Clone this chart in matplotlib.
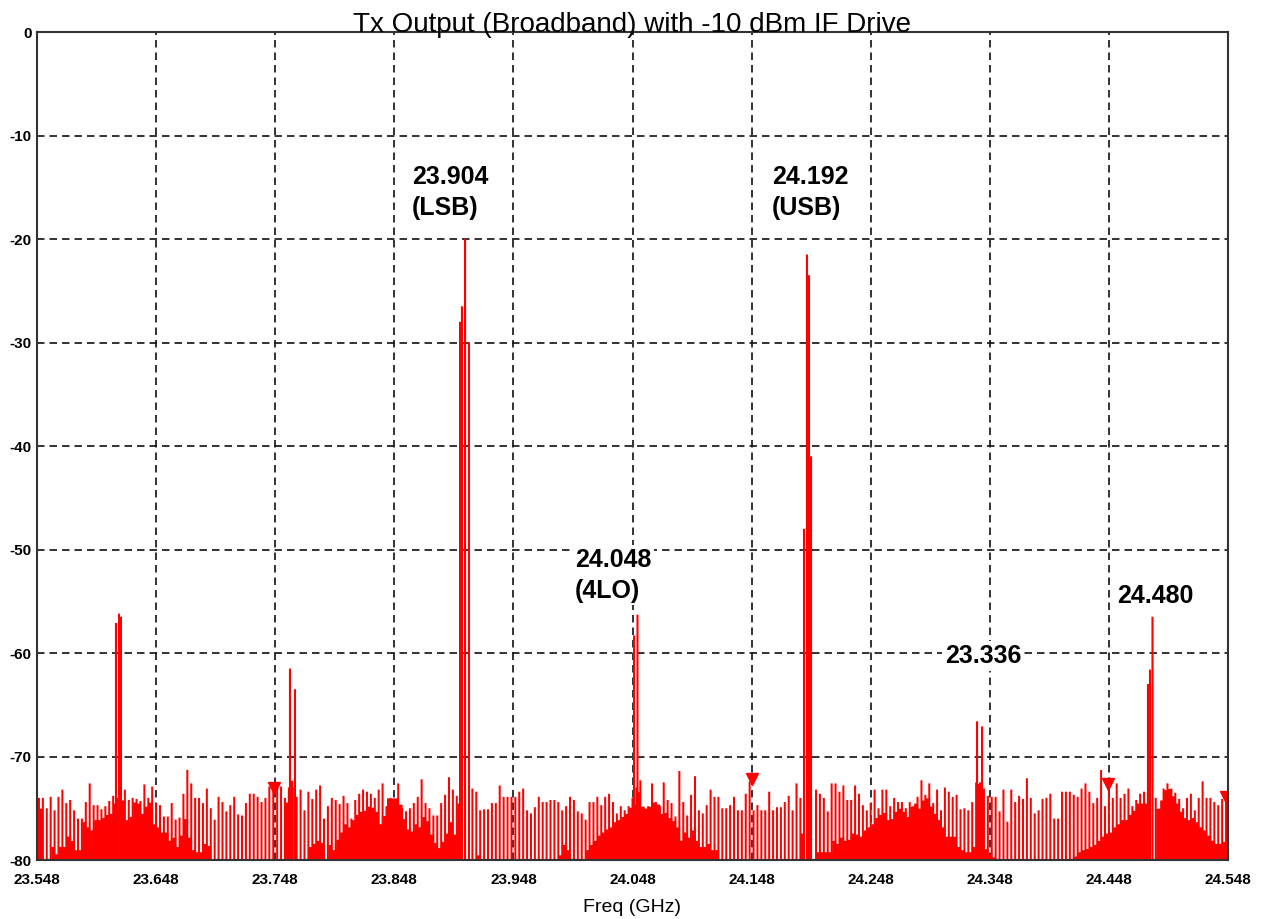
import numpy as np
import matplotlib
matplotlib.use('Agg')
import matplotlib.pyplot as plt

plt.rcParams['font.family'] = ['Liberation Sans', 'DejaVu Sans']

# sweep
f_start = 23.548
f_stop = 24.548

# noise comb: spike tops (dBm), one per sweep bin
tops = [
    -74.0, -74.0, -75.0, -73.9, -75.2, -73.9, -73.2, -74.5, -74.2, -75.2,
    -76.0, -76.0, -74.4, -72.6, -74.7, -74.7, -75.1, -74.8, -74.3, -73.8,
    -74.0, -74.0, -73.2, -74.2, -74.0, -74.1, -74.3, -72.7, -74.0, -72.9,
    -74.5, -74.7, -75.8, -75.8, -74.5, -76.1, -75.9, -73.6, -71.3, -72.6,
    -74.0, -74.0, -74.5, -73.1,
    -75.0, -76.1, -73.9, -74.4, -75.3, -74.7, -73.9, -75.6, -75.7, -74.5,
    -73.6, -73.6, -73.9, -74.4, -74.0, -72.9, -72.9, -72.8, -72.9, -74.0,
    -73.0, -73.0, -73.9, -73.2, -75.2, -73.4, -74.1, -73.2, -72.8, -76.0,
    -74.8, -74.0, -74.2, -74.6, -73.8, -74.5, -76.0, -74.2, -73.6, -73.2,
    -73.4, -73.6, -74.0,
    -73.2, -72.6, -74.8, -74.0, -74.2, -72.6, -75.0, -75.3, -75.0, -74.5,
    -73.9, -72.2, -74.5, -75.0, -75.7, -75.7, -74.5, -73.7, -72.0, -73.2,
    -73.8, -80.0, -80.0, -80.0, -73.1, -73.4, -75.2, -75.1, -75.1, -74.5,
    -74.5, -72.8, -73.9, -73.9, -73.9, -73.9, -73.4, -73.1, -75.2, -75.5,
    -74.9, -73.9, -74.4,
    -74.4, -74.2, -74.2, -74.4, -75.2, -74.8, -73.9, -74.2, -75.3, -75.5,
    -76.1, -74.4, -74.4, -73.9, -74.7, -73.9, -73.6, -74.4, -75.5, -74.8,
    -75.2, -74.8, -74.0, -73.0, -72.3, -75.0, -74.8, -72.6, -74.4, -74.8,
    -72.5, -74.2, -74.5, -75.8, -71.4, -74.4, -75.7, -73.7, -71.9, -75.2,
    -75.5, -74.7, -73.2, -73.9,
    -73.9, -75.0, -75.0, -74.7, -73.9, -75.2, -75.2, -73.6, -72.4, -75.2,
    -74.7, -75.2, -75.2, -73.4, -75.2, -74.9, -74.9, -74.4, -73.8, -75.2,
    -72.6, -74.0, -80.0, -80.0, -80.0, -73.2, -73.6, -74.0, -75.3, -72.6,
    -72.6, -73.4, -72.8, -74.2, -74.2, -72.8, -73.6, -74.7, -75.2, -74.5,
    -73.2, -75.0, -73.2, -73.2,
    -74.8, -74.0, -74.4, -74.4, -75.0, -74.4, -74.8, -73.9, -72.3, -73.7,
    -72.6, -74.5, -73.2, -75.2, -73.0, -73.4, -73.9, -73.7, -75.1, -75.0,
    -75.2, -74.4, -72.5, -72.5, -73.1, -73.8, -73.9, -73.9, -75.3, -73.2,
    -76.3, -73.2, -74.4, -73.8, -74.1, -72.1, -74.0, -75.5, -75.2, -74.1,
    -74.0, -73.6, -76.0,
    -76.0, -73.4, -73.4, -73.4, -73.7, -73.9, -73.1, -72.6, -73.4, -74.5,
    -74.0, -71.3, -74.8, -72.6, -74.0, -72.6, -74.0, -73.6, -73.1, -74.8,
    -74.2, -73.6, -73.4, -73.6, -80.0, -74.0, -75.1, -73.1, -72.6, -73.1,
    -73.5, -74.1, -75.0, -74.0, -73.6, -75.2, -74.0, -72.4, -74.0, -74.0,
    -74.4, -74.7, -74.1, -73.8,
]

# level of the trace between one spike and the next
gaps = [
    -75.0, -80.0, -80.0, -78.7, -79.4, -78.7, -78.7, -77.7, -78.1, -79.0,
    -79.0, -76.3, -76.8, -77.1, -76.1, -76.1, -75.9, -75.6, -75.5, -74.5,
    -80.0, -74.2, -76.1, -75.8, -74.4, -74.5, -75.5, -74.8, -74.4, -76.5,
    -76.8, -77.3, -77.3, -78.1, -77.8, -78.7, -77.6, -76.0, -77.8, -79.0,
    -79.2, -79.2, -78.4, -78.6,
    -80.0, -80.0, -80.0, -80.0, -80.0, -80.0, -80.0, -80.0, -80.0, -80.0,
    -80.0, -80.0, -80.0, -80.0, -80.0, -80.0, -80.0, -80.0, -80.0, -74.4,
    -72.3, -80.0, -80.0, -80.0, -80.0, -78.7, -78.4, -78.1, -78.3, -80.0,
    -78.5, -79.0, -78.0, -77.3, -76.5, -76.8, -76.1, -75.6, -75.3, -75.2,
    -74.8, -74.9, -75.3,
    -76.5, -75.7, -74.0, -74.0, -74.0, -74.6, -76.0, -77.0, -77.2, -76.5,
    -76.8, -75.8, -76.2, -77.5, -78.3, -78.8, -78.2, -77.4, -76.3, -77.5,
    -74.5, -80.0, -80.0, -80.0, -80.0, -79.5, -80.0, -80.0, -80.0, -80.0,
    -80.0, -80.0, -80.0, -80.0, -80.0, -80.0, -80.0, -80.0, -80.0, -80.0,
    -80.0, -80.0, -80.0,
    -80.0, -80.0, -80.0, -79.5, -78.5, -79.0, -80.0, -80.0, -80.0, -80.0,
    -79.0, -78.5, -78.1, -77.6, -77.3, -77.0, -76.8, -76.3, -76.1, -75.8,
    -75.5, -74.9, -74.6, -73.4, -74.8, -75.0, -74.8, -74.4, -74.6, -75.5,
    -75.4, -75.9, -76.2, -76.8, -78.1, -77.3, -77.8, -77.1, -78.1, -78.7,
    -78.7, -78.4, -79.0, -79.0,
    -80.0, -80.0, -80.0, -80.0, -80.0, -80.0, -80.0, -80.0, -80.0, -80.0,
    -80.0, -80.0, -80.0, -80.0, -80.0, -80.0, -80.0, -80.0, -80.0, -80.0,
    -80.0, -77.4, -80.0, -80.0, -80.0, -79.2, -79.2, -79.2, -79.2, -78.1,
    -78.4, -77.8, -78.1, -78.0, -77.4, -77.5, -77.7, -77.1, -76.8, -76.5,
    -75.9, -75.6, -75.4, -76.1,
    -76.0, -75.3, -75.0, -75.3, -75.8, -74.8, -74.5, -75.0, -74.2, -74.0,
    -74.8, -75.5, -76.1, -76.8, -77.7, -77.7, -77.7, -78.7, -79.0, -79.2,
    -79.2, -78.7, -72.6, -75.0, -78.9, -79.4, -79.7, -79.9, -80.0, -80.0,
    -80.0, -80.0, -80.0, -80.0, -80.0, -80.0, -80.0, -80.0, -80.0, -80.0,
    -80.0, -80.0, -80.0,
    -80.0, -80.0, -80.0, -80.0, -79.6, -79.2, -79.0, -78.9, -78.7, -78.5,
    -78.1, -77.7, -77.4, -77.3, -76.8, -76.5, -76.1, -76.1, -75.6, -75.2,
    -74.5, -74.5, -74.5, -80.0, -80.0, -75.0, -74.2, -73.2, -73.1, -73.8,
    -74.5, -75.3, -75.9, -76.1, -75.9, -76.3, -76.8, -77.1, -77.6, -78.1,
    -78.4, -78.4, -78.2, -78.2,
]

# discrete signals (GHz, dBm)
sig_freq = [23.6143, 23.6169, 23.6185,
            23.7604, 23.7646,
            23.9032, 23.9048, 23.9074, 23.9107,
            24.0493, 24.0522,
            24.1920, 24.1945, 24.1962, 24.1979,
            24.3373, 24.3415,
            24.4808, 24.4825, 24.4846]
sig_level = [-57.1, -56.2, -56.5,
             -61.5, -63.5,
             -28.0, -26.5, -20.0, -30.0,
             -58.3, -56.3,
             -48.0, -21.5, -23.5, -41.0,
             -66.6, -67.1,
             -63.0, -61.6, -56.5]

# instrument markers
mk_freq = [23.7470, 24.1483, 24.4473, 24.5463]
mk_level = [-73.0, -72.2, -72.7, -73.9]

# annotations
ann_text = ['23.904\n(LSB)', '24.192\n(USB)', '24.048\n(4LO)', '23.336', '24.480']
ann_x = [23.8629, 24.1651, 23.9997, 24.3104, 24.4548]
ann_y = [-15.5, -15.5, -52.5, -60.3, -54.5]

n = len(tops)
df = (f_stop - f_start) / n
freqs = f_start + (np.arange(n) + 0.5) * df

fig = plt.figure(figsize=(12.64, 9.19), dpi=100)
ax = fig.add_axes([37 / 1264, 1 - 860 / 919, 1191 / 1264, 828 / 919])

red = '#ff0000'
# floor of the trace between the spikes
ax.fill_between(np.append(freqs, f_stop), -80, np.append(gaps, gaps[-1]),
                step='post', color=red, linewidth=0)
# the comb itself
ax.vlines(freqs, -80, tops, color=red, lw=1.45, snap=False)
ax.vlines(sig_freq, -80, sig_level, color=red, lw=1.5, snap=False)
ax.plot(mk_freq, mk_level, 'v', color=red, markersize=9, linestyle='none')

for t, x, y in zip(ann_text, ann_x, ann_y):
    ax.text(x, y, t, ha='left', va='center', fontsize=18, fontweight='bold',
            linespacing=1.35, zorder=5,
            bbox=dict(facecolor='white', edgecolor='none', pad=2))

ax.set_xlim(f_start, f_stop)
ax.set_ylim(-80, 0)
xt = [23.548 + 0.1 * k for k in range(11)]
ax.set_xticks(xt)
ax.set_xticklabels([f'{v:.3f}' for v in xt], fontsize=11, fontweight='bold')
ax.set_yticks(range(-80, 1, 10))
ax.set_yticklabels([str(v) for v in range(-80, 1, 10)], fontsize=11,
                   fontweight='bold')
ax.tick_params(length=0, pad=4)
ax.tick_params(axis='x', pad=9)

ax.set_axisbelow(True)
ax.grid(True, color='#111111', linestyle=(0, (4.5, 3)), lw=1.2)
for s in ax.spines.values():
    s.set_color('#333333')
    s.set_linewidth(1.5)

fig.text(0.5, 1 - 32 / 919, 'Tx Output (Broadband) with -10 dBm IF Drive',
         ha='center', va='baseline', fontsize=20)
fig.text(632 / 1264, 1 - 908 / 919, 'Freq (GHz)', ha='center', va='center',
         fontsize=14)

fig.savefig('out.png', dpi=100)
